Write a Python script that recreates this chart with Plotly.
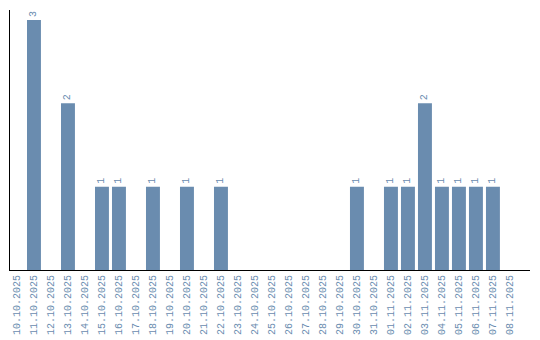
import plotly.graph_objects as go

dates = ["10.10.2025", "11.10.2025", "12.10.2025", "13.10.2025", "14.10.2025",
         "15.10.2025", "16.10.2025", "17.10.2025", "18.10.2025", "19.10.2025",
         "20.10.2025", "21.10.2025", "22.10.2025", "23.10.2025", "24.10.2025",
         "25.10.2025", "26.10.2025", "27.10.2025", "28.10.2025", "29.10.2025",
         "30.10.2025", "31.10.2025", "01.11.2025", "02.11.2025", "03.11.2025",
         "04.11.2025", "05.11.2025", "06.11.2025", "07.11.2025", "08.11.2025"]
counts = [0, 3, 0, 2, 0, 1, 1, 0, 1, 0, 1, 0, 1, 0, 0,
          0, 0, 0, 0, 0, 1, 0, 1, 1, 2, 1, 1, 1, 1, 0]

labels = [str(v) if v > 0 else "" for v in counts]
color = "#6a8caf"
font = "Liberation Mono"

fig = go.Figure(go.Bar(
    x=list(range(len(dates))), y=counts,
    marker=dict(color=color, line=dict(width=0)),
    width=0.82,
    text=labels, textposition="outside", textangle=-90,
    textfont=dict(family=font, size=10, color=color),
    cliponaxis=False,
))
fig.update_layout(
    width=540, height=340,
    margin=dict(l=10, r=10, t=10, b=70, autoexpand=False),
    plot_bgcolor="white", paper_bgcolor="white",
    showlegend=False,
    xaxis=dict(
        tickmode="array", tickvals=list(range(len(dates))), ticktext=dates,
        tickangle=-90, range=[-0.41, 30.18], automargin=False,
        tickfont=dict(family=font, size=10, color=color),
        showgrid=False, zeroline=False, showline=True, linecolor="black", linewidth=1,
        ticks="",
    ),
    yaxis=dict(
        range=[0, 3.12], showticklabels=False, showgrid=False, zeroline=False,
        showline=True, linecolor="black", linewidth=1, ticks="", automargin=False,
    ),
)
fig.write_html("out.html")
